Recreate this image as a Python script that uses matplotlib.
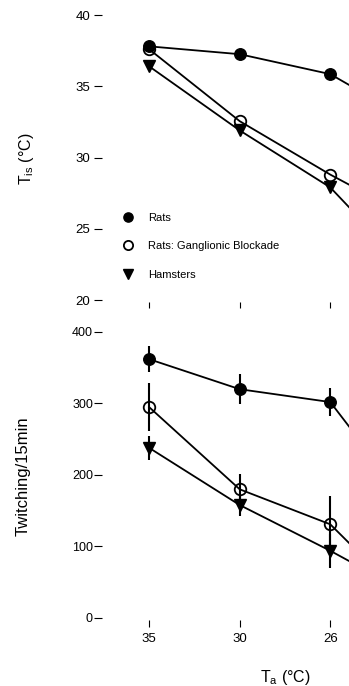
import matplotlib
matplotlib.use("Agg")
import matplotlib.pyplot as plt
from matplotlib.lines import Line2D

plt.rcParams['font.family'] = ['Liberation Sans', 'DejaVu Sans']
plt.rcParams['mathtext.fontset'] = 'custom'
plt.rcParams['mathtext.rm'] = 'Liberation Sans'
plt.rcParams['mathtext.it'] = 'Liberation Sans'

# ---- data ----
# visible ambient-temperature categories; each series has one more point
# beyond the right edge of the (cropped) figure
ta_labels = ['35', '30', '26']
series = ['Rats', 'Rats: Ganglionic Blockade', 'Hamsters']

tis_rats = [37.8, 37.25, 35.85, 32.2]
tis_block = [37.6, 32.55, 28.8, 25.4]
tis_ham = [36.4, 31.9, 27.9, 21.2]

tw_rats = [362, 320, 302, 137]
tw_rats_err = [18, 21, 19, 0]
tw_block = [295, 180, 131, 5]
tw_block_err = [33, 22, 40, 0]
tw_ham = [238, 158, 94, 25]
tw_ham_err = [17, 15, 24, 0]

W, H = 349, 686
fig = plt.figure(figsize=(W / 100, H / 100), dpi=100)


def pos(left, top, right, bottom):
    return [left / W, 1 - bottom / H, (right - left) / W, (bottom - top) / H]


ax1 = fig.add_axes(pos(102, 15, 468, 302))
ax2 = fig.add_axes(pos(102, 332, 468, 620))

n_pts = len(tis_rats)
x = list(range(n_pts))
lw = 1.3
ms = 8.3

styles = [
    dict(marker='o', color='black', markerfacecolor='black', markersize=ms),
    dict(marker='o', color='black', markerfacecolor='none', markeredgewidth=1.3, markersize=ms),
    dict(marker='v', color='black', markerfacecolor='black', markersize=ms),
]

for vals, st in zip([tis_rats, tis_block, tis_ham], styles):
    ax1.plot(x, vals, linewidth=lw, **st)

for vals, err, st in zip([tw_rats, tw_block, tw_ham],
                         [tw_rats_err, tw_block_err, tw_ham_err], styles):
    ax2.errorbar(x, vals, yerr=err, linewidth=lw, elinewidth=1.5, capsize=0, **st)

for ax in (ax1, ax2):
    for s in ax.spines.values():
        s.set_visible(False)
    ax.set_xlim(-0.52, n_pts - 0.48)
    ax.set_xticks(list(range(len(ta_labels))))
    ax.tick_params(axis='both', direction='out', length=5.5, width=0.8, labelsize=9.5)

ax1.set_ylim(19.86, 40)
ax1.set_yticks([20, 25, 30, 35, 40])
ax1.tick_params(axis='x', labelbottom=False, length=4.5)
ax1.tick_params(axis='y', pad=3)

ax2.set_ylim(-2.8, 400)
ax2.set_yticks([0, 100, 200, 300, 400])
ax2.set_xticklabels(ta_labels)
ax2.tick_params(axis='y', pad=1, labelsize=9)
ax2.tick_params(axis='x', pad=4, length=5)

ax1.set_ylabel(r'T$_{\mathrm{is}}$ (°C)', fontsize=11.5)
ax1.yaxis.set_label_coords(-0.18, 0.5)
ax2.set_ylabel('Twitching/15min', fontsize=12)
ax2.yaxis.set_label_coords(-0.195, 0.5)
ax2.set_xlabel(r'T$_{\mathrm{a}}$ (°C)', fontsize=11.5, labelpad=17)

handles = [Line2D([], [], linestyle='none', **st) for st in styles]
leg = ax1.legend(handles, series, loc='upper left', bbox_to_anchor=(0.048, 0.326),
                 frameon=False, fontsize=8, markerscale=0.8, handlelength=0.8,
                 handletextpad=1.4, labelspacing=1.65, borderaxespad=0)

fig.savefig('out.png', dpi=100)
